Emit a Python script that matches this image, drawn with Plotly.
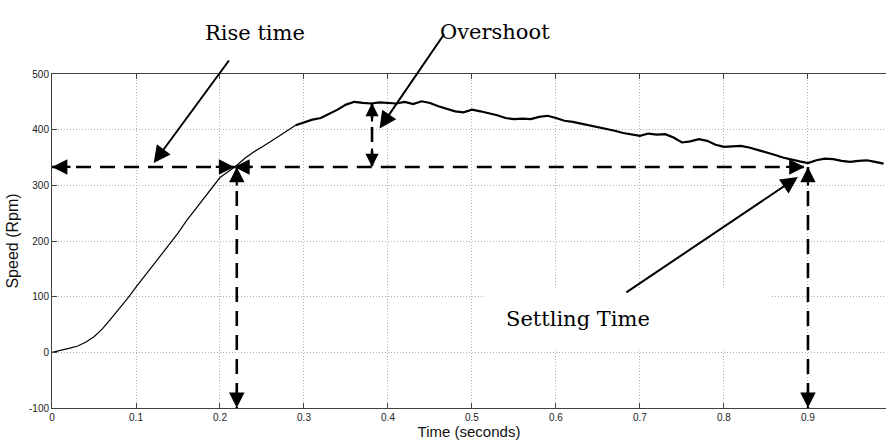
import numpy as np
import plotly.graph_objects as go

# Measured motor speed step response, sampled every 10 ms
time_s = np.round(np.arange(0, 1.00, 0.01), 2)
speed_rpm = [
    0, 3, 7, 11, 18, 28, 42, 60, 78, 97,
    117, 136, 155, 175, 194, 214, 236, 256, 275, 295,
    314, 325, 336, 349, 360, 369, 378, 388, 398, 408,
    413, 418, 421, 428, 436, 445, 450, 448, 447, 449,
    448, 447, 450, 446, 451, 448, 442, 437, 433, 431,
    436, 433, 430, 426, 421, 419, 420, 419, 423, 425,
    421, 416, 414, 411, 407, 404, 402, 398, 394, 391,
    389, 393, 391, 392, 386, 377, 379, 383, 380, 373,
    369, 370, 371, 368, 364, 359, 355, 350, 346, 343,
    340, 345, 348, 347, 344, 342, 344, 345, 342, 339,
]

# Key response measures
rise_time = 0.22
settling_time = 0.90
reference_speed = 333
peak_time = 0.381
peak_speed = 448
axis_floor = -100

x_ticks = [0, 0.1, 0.2, 0.3, 0.4, 0.5, 0.6, 0.7, 0.8, 0.9]
x_tick_text = ["0", "0.1", "0.2", "0.3", "0.4", "0.5", "0.6", "0.7", "0.8", "0.9"]
y_ticks = [-100, 0, 100, 200, 300, 400, 500]
y_tick_text = ["-100", "0", "100", "200", "300", "400", "500"]

fig = go.Figure()
# the smooth rising part is drawn thinner than the noisy plateau
split = 29
fig.add_trace(go.Scatter(x=time_s[:split + 1], y=speed_rpm[:split + 1],
                         mode="lines", line=dict(color="black", width=1.2),
                         showlegend=False, hoverinfo="skip"))
fig.add_trace(go.Scatter(x=time_s[split:], y=speed_rpm[split:],
                         mode="lines", line=dict(color="black", width=2.2),
                         showlegend=False, hoverinfo="skip"))

dash_style = dict(color="black", width=2.6, dash="15px,9px")

# white panel behind the "Settling Time" label
fig.add_shape(type="rect", x0=0.515, x1=0.857, y0=3.6, y1=114.8,
              fillcolor="white", line=dict(width=0), layer="above")

# dashed guide lines
guides = [
    (0, reference_speed, rise_time, reference_speed),
    (rise_time, reference_speed, settling_time, reference_speed),
    (rise_time, reference_speed, rise_time, axis_floor),
    (settling_time, reference_speed, settling_time, axis_floor),
    (peak_time, peak_speed, peak_time, reference_speed),
]
for x0, y0, x1, y1 in guides:
    fig.add_shape(type="line", x0=x0, y0=y0, x1=x1, y1=y1,
                  line=dash_style, layer="above")


def head(x, y, dx, dy, size=1.4):
    fig.add_annotation(x=x, y=y, ax=dx, ay=dy, text="", showarrow=True,
                       arrowhead=2, arrowsize=size, arrowwidth=2.2,
                       arrowcolor="black", standoff=0)


# arrowheads on the guide lines
head(0, reference_speed, 20, 0)
head(rise_time - 0.003, reference_speed, -20, 0)
head(rise_time - 0.003, reference_speed, 20, 0)
head(rise_time, reference_speed, 0, 20)
head(rise_time, axis_floor, 0, -20)
head(settling_time - 0.004, reference_speed, -20, 0)
head(settling_time, reference_speed, 0, 20)
head(settling_time, axis_floor, 0, -20)
head(peak_time, peak_speed, 0, 20, 1.2)
head(peak_time, reference_speed, 0, -20, 1.2)

label_font = dict(family="DejaVu Serif", size=21, color="black")

# pointer arrows from the labels
pointers = [
    (0.121, 340, 0.212, 527),
    (0.390, 402, 0.468, 574),
    (0.888, 315, 0.682, 106),
]
for x, y, ax, ay in pointers:
    fig.add_annotation(x=x, y=y, ax=ax, ay=ay, axref="x", ayref="y",
                       text="", showarrow=True, arrowhead=2, arrowsize=1.7,
                       arrowwidth=2, arrowcolor="black", standoff=0)

fig.add_annotation(x=0.2417, y=1.165, yref="paper", text="Rise time",
                   showarrow=False, font=label_font)
fig.add_annotation(x=0.527, y=1.168, yref="paper", text="Overshoot",
                   showarrow=False, font=label_font)
fig.add_annotation(x=0.626, y=59, text="Settling Time", showarrow=False,
                   font=label_font)

axis_common = dict(
    showline=True, linecolor="#404040", linewidth=1,
    ticks="inside", ticklen=5, tickcolor="#404040",
    showgrid=True, gridcolor="#b0b0b0", griddash="1px,2px", gridwidth=1,
    zeroline=False,
    tickfont=dict(family="Liberation Sans", size=10, color="#222222"),
)

fig.update_xaxes(range=[0, 0.9929], tickvals=x_ticks, ticktext=x_tick_text,
                 mirror="ticks",
                 title=dict(text="Time (seconds)", standoff=2,
                            font=dict(family="Liberation Sans", size=15,
                                      color="#111111")),
                 **axis_common)
fig.update_yaxes(range=[-100, 500], tickvals=y_ticks, ticktext=y_tick_text,
                 title=dict(text="Speed (Rpm)", standoff=6,
                            font=dict(family="Liberation Sans", size=16,
                                      color="#111111")),
                 **axis_common)

fig.update_layout(width=886, height=443,
                  margin=dict(l=52, r=0, t=74, b=35),
                  plot_bgcolor="white", paper_bgcolor="white")

fig.write_html("out.html")
